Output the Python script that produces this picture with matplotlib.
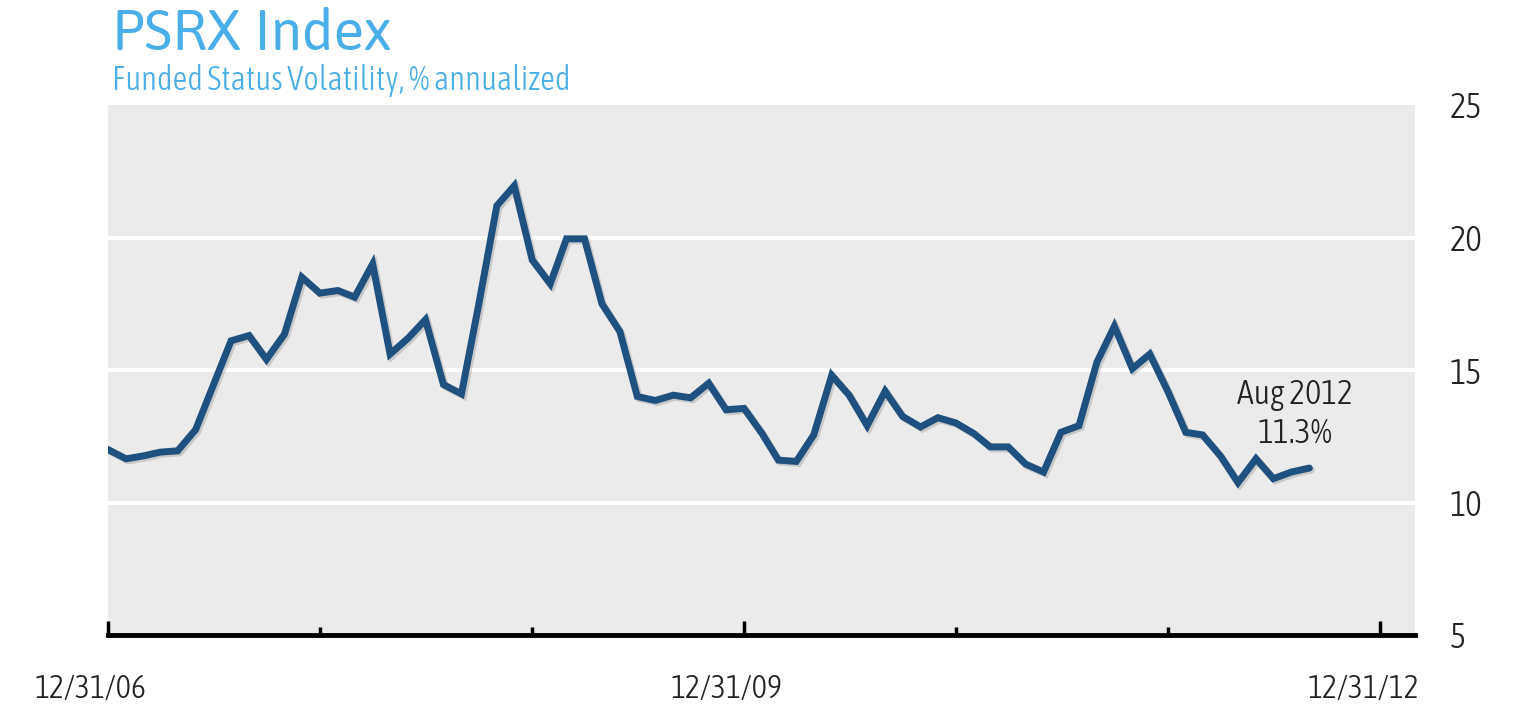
import pandas as pd
import numpy as np
import matplotlib
matplotlib.use("Agg")
import matplotlib.pyplot as plt
import matplotlib.dates as mdates
import matplotlib.patheffects as pe
from matplotlib.transforms import ScaledTranslation

# monthly funded status volatility, Dec 2006 .. Aug 2012
start_date = "2006-12-31"
volatility = [12.0,
              11.65, 11.75, 11.9, 11.95, 12.75, 14.4, 16.1, 16.3, 15.4, 16.35, 18.5, 17.9,
              18.0, 17.75, 19.0, 15.6, 16.2, 16.9, 14.45, 14.1, 17.5, 21.2, 21.95, 19.15,
              18.25, 19.95, 19.95, 17.5, 16.45, 14.0, 13.85, 14.05, 13.95, 14.5, 13.5, 13.55,
              12.6, 11.6, 11.55, 12.55, 14.8, 14.05, 12.9, 14.2, 13.25, 12.85, 13.2, 13.0,
              12.6, 12.1, 12.1, 11.45, 11.15, 12.65, 12.9, 15.3, 16.65, 15.05, 15.6, 14.2,
              12.65, 12.55, 11.75, 10.75, 11.65, 10.9, 11.15, 11.3]
dates = pd.date_range(start_date, periods=len(volatility), freq="ME")

year_ticks = pd.to_datetime(["2006-12-31", "2007-12-31", "2008-12-31", "2009-12-31",
                             "2010-12-31", "2011-12-31", "2012-12-31"])
labeled_ticks = pd.to_datetime(["2006-12-31", "2009-12-31", "2012-12-31"])
tick_labels = ["12/31/06", "12/31/09", "12/31/12"]
y_ticks = [5, 10, 15, 20, 25]

title = "PSRX Index"
subtitle = "Funded Status Volatility, % annualized"
note = "Aug 2012\n11.3%"

LINE_COLOR = "#1f5180"
BLUE = "#4aaee8"
NARROW = ["Asap Condensed", "DejaVu Sans"]

fig = plt.figure(figsize=(15.36, 7.19), dpi=100)
ax = fig.add_axes([108 / 1536, 1 - 635 / 719, (1415 - 108) / 1536, (635 - 105) / 719])
ax.set_facecolor("#ebebeb")

ax.plot(dates, volatility, color=LINE_COLOR, lw=5, solid_joinstyle="miter",
        solid_capstyle="round",
        path_effects=[pe.SimpleLineShadow(offset=(1.5, -1.5), shadow_color="k", alpha=0.15),
                      pe.Normal()])

ax.set_ylim(5, 25)
ax.set_xlim(pd.Timestamp("2006-12-31"), pd.Timestamp("2013-03-01"))

ax.set_yticks(y_ticks)
ax.yaxis.tick_right()
ax.tick_params(axis="y", length=0, pad=25, labelsize=25, labelcolor="#222222")
for lbl in ax.get_yticklabels():
    lbl.set_family(NARROW)
    lbl.set_fontweight(300)
    lbl.set_horizontalalignment("left")
for v in [10, 15, 20]:
    ax.axhline(v, color="white", lw=3, zorder=1)

# year ticks, only every third one labeled
ax.set_xticks(labeled_ticks)
ax.set_xticklabels(tick_labels)
ax.set_xticks([d for d in year_ticks if d not in labeled_ticks], minor=True)
ax.tick_params(axis="x", which="major", direction="in", length=10, width=2.5,
               color="black", pad=28, labelsize=23, labelcolor="#222222")
ax.tick_params(axis="x", which="minor", direction="in", length=6, width=2.5, color="black")
offset = ScaledTranslation(-17 / 100, 0, fig.dpi_scale_trans)
for lbl in ax.get_xticklabels():
    lbl.set_family(NARROW)
    lbl.set_fontweight(300)
    lbl.set_transform(lbl.get_transform() + offset)

for side in ["top", "left", "right"]:
    ax.spines[side].set_visible(False)
ax.spines["bottom"].set_linewidth(3.5)
ax.spines["bottom"].set_color("black")

ax.annotate(note, xy=(dates[-1], volatility[-1]), xytext=(-14, 18),
            textcoords="offset pixels", ha="center", va="bottom",
            multialignment="center", fontsize=24.5, color="#222222",
            family=NARROW, fontweight=300, linespacing=1.25)

fig.text(112 / 1536, 1 - 50 / 719, title, fontsize=40.5, color=BLUE,
         family=["Asap", "Open Sans", "DejaVu Sans"], va="baseline", ha="left")
fig.text(112 / 1536, 1 - 90 / 719, subtitle, fontsize=23.7, color=BLUE,
         family=NARROW, fontweight=300, va="baseline", ha="left")

fig.savefig("out.png", dpi=100)
